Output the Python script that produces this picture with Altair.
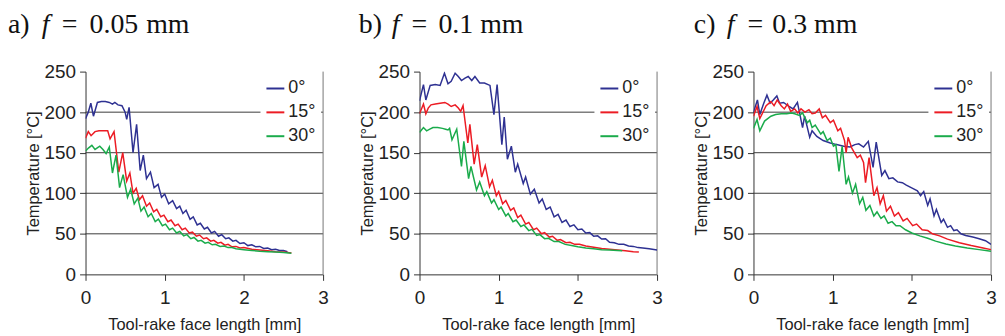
import altair as alt
import pandas as pd

ANGLES = ["0°", "15°", "30°"]
COLORS = ["#2e3192", "#ec1c24", "#1aab4b"]
LABELS = ["a)", "b)", "c)"]
FEEDS = ["0.05", "0.1", "0.3"]
GRID = [50, 100, 150, 200]
XTICKS = [0, 1, 2, 3]
YTICKS = [0, 50, 100, 150, 200, 250]

# panel a) f = 0.05 mm
A0 = [(0, 192), (0.035, 200), (0.067, 211), (0.10, 195), (0.15, 212), (0.20, 213), (0.25, 213),
      (0.30, 212), (0.34, 210), (0.37, 212), (0.41, 209), (0.46, 208), (0.50, 200), (0.52, 191),
      (0.55, 206), (0.60, 150), (0.645, 185), (0.69, 128), (0.73, 147), (0.77, 118), (0.82, 126),
      (0.866, 107), (0.916, 111), (0.96, 95), (1.00, 99), (1.05, 87), (1.10, 91), (1.15, 81),
      (1.19, 84), (1.23, 75), (1.27, 79), (1.32, 68), (1.36, 71), (1.41, 61), (1.45, 63), (1.50, 56),
      (1.54, 58), (1.59, 51), (1.63, 53), (1.68, 47), (1.72, 49), (1.77, 44), (1.81, 45), (1.86, 41),
      (1.90, 42), (1.95, 38), (2.00, 39), (2.05, 35.5), (2.10, 36.5), (2.15, 34), (2.20, 34.5),
      (2.25, 32), (2.30, 32.5), (2.35, 30.5), (2.40, 31), (2.45, 29.5), (2.50, 29.5), (2.55, 28)]
A15 = [(0, 168), (0.035, 176), (0.07, 171), (0.12, 176), (0.17, 177), (0.22, 177), (0.28, 177),
       (0.31, 167), (0.36, 176), (0.42, 126), (0.47, 150), (0.52, 115), (0.56, 125), (0.60, 100),
       (0.64, 106), (0.68, 92), (0.72, 97), (0.77, 84), (0.81, 88), (0.86, 77), (0.90, 80), (0.95, 71),
       (0.99, 73), (1.04, 65), (1.08, 67), (1.13, 60), (1.17, 62), (1.22, 55), (1.26, 57), (1.31, 51),
       (1.35, 52), (1.40, 47), (1.44, 48.5), (1.49, 44), (1.53, 45), (1.58, 41), (1.62, 42),
       (1.67, 38.5), (1.71, 39.5), (1.76, 36), (1.80, 37), (1.85, 34), (1.90, 34.5), (1.95, 32.5),
       (2.00, 33), (2.10, 31), (2.20, 30), (2.30, 29), (2.40, 28), (2.50, 27.5), (2.60, 26.5)]
A30 = [(0, 152), (0.04, 156), (0.08, 159), (0.12, 154), (0.18, 158), (0.22, 154), (0.26, 149),
       (0.30, 157), (0.34, 125), (0.385, 147), (0.43, 107), (0.475, 123), (0.53, 95), (0.57, 105),
       (0.615, 87), (0.66, 94), (0.70, 78), (0.74, 83), (0.79, 71), (0.83, 75), (0.88, 65), (0.92, 68),
       (0.97, 60), (1.01, 62), (1.06, 55), (1.10, 57), (1.15, 51), (1.19, 53), (1.24, 47.5), (1.28, 49),
       (1.33, 44), (1.37, 45.5), (1.42, 41), (1.46, 42), (1.51, 38.5), (1.55, 39.5), (1.60, 36.5),
       (1.64, 37), (1.70, 34.5), (1.75, 35), (1.80, 33), (1.85, 33), (1.90, 31.5), (2.00, 30.5),
       (2.10, 29.5), (2.20, 28.5), (2.30, 28), (2.40, 27.5), (2.50, 27), (2.60, 26)]

# panel b) f = 0.1 mm
B0 = [(0, 214), (0.05, 234), (0.08, 215), (0.135, 233), (0.20, 234), (0.26, 233), (0.315, 248),
      (0.36, 235), (0.40, 238), (0.45, 248), (0.49, 244), (0.53, 239), (0.575, 242), (0.615, 244),
      (0.66, 239), (0.70, 244), (0.76, 236), (0.82, 236), (0.89, 233), (0.94, 197), (0.98, 234),
      (1.04, 160), (1.07, 194), (1.11, 142), (1.16, 158), (1.21, 126), (1.24, 136), (1.31, 112),
      (1.34, 120), (1.40, 99), (1.45, 105), (1.51, 88), (1.55, 93), (1.60, 80), (1.65, 83), (1.70, 71),
      (1.75, 74), (1.80, 64), (1.85, 67), (1.90, 59), (1.95, 61), (2.00, 55), (2.05, 56), (2.10, 51),
      (2.15, 51.5), (2.20, 47), (2.25, 47.5), (2.30, 43.5), (2.35, 44), (2.40, 39.5), (2.46, 39),
      (2.52, 37), (2.58, 37), (2.64, 35), (2.70, 34.5), (2.76, 33), (2.82, 32.5), (2.90, 31.5),
      (3.00, 30)]
B15 = [(0, 198), (0.05, 210), (0.08, 198), (0.11, 205), (0.145, 209), (0.20, 210), (0.26, 211),
       (0.32, 212), (0.36, 210), (0.40, 207), (0.45, 209), (0.49, 205), (0.52, 201), (0.55, 208),
       (0.61, 162), (0.636, 185), (0.69, 136), (0.73, 160), (0.785, 120), (0.83, 134), (0.885, 108),
       (0.92, 116), (0.97, 97), (1.00, 102), (1.05, 87), (1.09, 91), (1.15, 79), (1.19, 82), (1.24, 70),
       (1.28, 73), (1.34, 62), (1.38, 64), (1.44, 55), (1.48, 57), (1.54, 50), (1.58, 51.5), (1.64, 46),
       (1.68, 47), (1.74, 42), (1.78, 43), (1.85, 39), (1.90, 39.5), (1.96, 37), (2.02, 37),
       (2.10, 35), (2.20, 33.5), (2.30, 32), (2.40, 31), (2.50, 30), (2.60, 29), (2.70, 28),
       (2.77, 27.5)]
B30 = [(0, 175), (0.05, 181), (0.09, 177), (0.13, 179), (0.17, 181), (0.23, 181), (0.29, 180),
       (0.33, 179), (0.36, 178), (0.38, 180), (0.41, 166), (0.47, 179), (0.53, 133), (0.56, 164),
       (0.62, 118), (0.65, 133), (0.72, 104), (0.76, 114), (0.82, 97), (0.85, 102), (0.91, 88),
       (0.94, 92), (1.00, 80), (1.03, 83), (1.09, 72), (1.12, 75), (1.18, 65), (1.22, 67), (1.28, 59),
       (1.32, 61), (1.38, 54), (1.42, 55.5), (1.48, 48), (1.52, 49), (1.58, 44), (1.63, 44.5),
       (1.70, 40.5), (1.76, 40.5), (1.84, 37), (1.92, 35.5), (2.00, 34), (2.10, 32.5), (2.20, 31.5),
       (2.30, 30.5), (2.40, 30), (2.50, 29.5), (2.56, 29)]

# panel c) f = 0.3 mm
C0 = [(0, 200), (0.05, 215), (0.08, 197), (0.13, 211), (0.17, 221), (0.21, 211), (0.25, 215),
      (0.295, 220), (0.33, 211), (0.38, 212), (0.45, 207), (0.50, 204), (0.555, 212), (0.62, 181),
      (0.646, 195), (0.71, 169), (0.74, 177), (0.80, 170), (0.88, 165), (0.97, 162), (1.05, 160),
      (1.14, 158), (1.22, 157), (1.28, 160), (1.33, 161), (1.39, 157), (1.45, 164), (1.51, 132),
      (1.55, 163), (1.62, 122), (1.66, 128), (1.71, 118), (1.76, 119), (1.82, 114), (1.88, 113),
      (1.93, 110), (2.01, 106), (2.07, 103), (2.11, 97), (2.15, 102), (2.20, 85), (2.23, 93),
      (2.28, 72), (2.31, 80), (2.37, 64), (2.40, 68), (2.45, 58), (2.49, 60), (2.53, 54), (2.57, 55),
      (2.62, 50), (2.68, 48), (2.77, 46), (2.85, 44), (2.93, 41.5), (3.00, 37)]
C15 = [(0, 195), (0.045, 207), (0.08, 192), (0.16, 208), (0.22, 213), (0.26, 208), (0.30, 215),
       (0.35, 208), (0.39, 204), (0.43, 210), (0.47, 201), (0.52, 204), (0.56, 199), (0.60, 204),
       (0.65, 200), (0.70, 203), (0.74, 198), (0.78, 199), (0.83, 204), (0.87, 193), (0.91, 196),
       (0.97, 187), (1.01, 190), (1.065, 177), (1.10, 180), (1.15, 165), (1.17, 150), (1.195, 169),
       (1.24, 156), (1.31, 144), (1.35, 147), (1.39, 138), (1.415, 113), (1.46, 144), (1.52, 97),
       (1.56, 107), (1.60, 87), (1.64, 97), (1.68, 78), (1.73, 84), (1.78, 72), (1.83, 76), (1.89, 66),
       (1.94, 69), (2.01, 60), (2.06, 62), (2.13, 55), (2.20, 54), (2.26, 50), (2.35, 47.5),
       (2.45, 43.5), (2.60, 39), (2.75, 35.5), (2.90, 32.5), (3.00, 30.5)]
C30 = [(0, 180), (0.045, 191), (0.08, 177), (0.14, 189), (0.18, 192), (0.22, 195), (0.28, 197),
       (0.35, 198), (0.42, 198), (0.48, 199), (0.52, 198), (0.58, 196), (0.62, 199), (0.68, 187),
       (0.71, 190), (0.74, 181), (0.78, 184), (0.85, 173), (0.88, 176), (0.93, 165), (0.97, 168),
       (1.01, 158), (1.04, 160), (1.08, 127), (1.12, 158), (1.17, 111), (1.20, 120), (1.25, 100),
       (1.29, 111), (1.34, 87), (1.38, 95), (1.42, 79), (1.47, 85), (1.52, 72), (1.56, 77), (1.61, 69),
       (1.65, 72), (1.70, 63), (1.75, 65), (1.80, 60), (1.85, 60), (1.92, 55), (2.00, 51),
       (2.10, 47.5), (2.20, 44.5), (2.30, 41), (2.43, 37.5), (2.55, 35), (2.70, 32.5), (2.85, 30.5),
       (3.00, 28.5)]

SERIES = [[A0, A15, A30], [B0, B15, B30], [C0, C15, C30]]
# text offsets (px relative to plot origin) for "a)", "f", "=", number, "mm"
TITLE_X = [[-78, -44, -24, 4, 61], [-61, -28, -8, 19, 61], [-60, -27, -6, 19, 61]]

W, H = 239, 204
SANS = "Liberation Sans"
SERIF = "Liberation Serif"


def piece(text, xpos, italic=False):
    kw = dict(align="left", baseline="alphabetic", font=SERIF, fontSize=28, color="#111111")
    if italic:
        kw["fontStyle"] = "italic"
    return alt.Chart(pd.DataFrame({"t": [text]})).mark_text(**kw).encode(
        text="t:N", x=alt.value(xpos), y=alt.value(-39))


def panel(series, label, feed, tx):
    rows = []
    for ang, pts in zip(ANGLES, series):
        for xv, yv in pts:
            rows.append({"x": xv, "T": yv, "angle": ang})
    df = pd.DataFrame(rows)

    X = alt.X("x:Q", scale=alt.Scale(domain=[0, 3], nice=False, zero=False),
              axis=alt.Axis(values=XTICKS, format="d", title="Tool-rake face length [mm]",
                            grid=False, labelFlush=False))
    Y = alt.Y("T:Q", scale=alt.Scale(domain=[0, 250], nice=False),
              axis=alt.Axis(values=YTICKS, title="Temperature [°C]", grid=False, labelFlush=False))

    grid = alt.Chart(pd.DataFrame({"T": GRID})).mark_rule(color="#3a3a3a", strokeWidth=1).encode(
        y=Y, x=alt.value(0), x2=alt.value(W))
    border = alt.Chart(pd.DataFrame({"x": [3]})).mark_rule(color="#777777", strokeWidth=1).encode(
        x=X, y=alt.value(0), y2=alt.value(H))
    lines = alt.Chart(df).mark_line(strokeWidth=1.5, clip=True).encode(
        x=X, y=Y,
        color=alt.Color("angle:N", scale=alt.Scale(domain=ANGLES, range=COLORS),
                        legend=alt.Legend(title=None, orient="none", legendX=176, legendY=2,
                                          symbolType="stroke", symbolStrokeWidth=2, symbolSize=324,
                                          labelFontSize=18, labelFont=SANS, labelColor="#222222",
                                          fillColor="white", padding=5, rowPadding=5, labelOffset=3)),
    )
    texts = [piece(label, tx[0]), piece("f", tx[1], italic=True), piece("=", tx[2]),
             piece(feed, tx[3]), piece("mm", tx[4])]
    return alt.layer(grid, border, lines, *texts).properties(width=W, height=H)


panels = [panel(SERIES[i], LABELS[i], FEEDS[i], TITLE_X[i]) for i in range(3)]

chart = alt.hconcat(*panels, spacing=30).resolve_scale(color="independent").resolve_legend(
    color="independent").properties(
    padding={"left": 0, "top": 2, "right": 0, "bottom": 0}
).configure_view(stroke=None).configure_axis(
    labelFont=SANS, titleFont=SANS, labelFontSize=19, titleFontSize=16.5, titleFontWeight="normal",
    labelColor="#222222", titleColor="#222222", domainColor="#333333", tickColor="#333333",
    tickSize=6, domainWidth=1
).configure_axisY(titlePadding=3, labelPadding=4).configure_axisX(titlePadding=9, labelPadding=8)

chart.save("out.html", embed_options={"renderer": "svg", "actions": False})
